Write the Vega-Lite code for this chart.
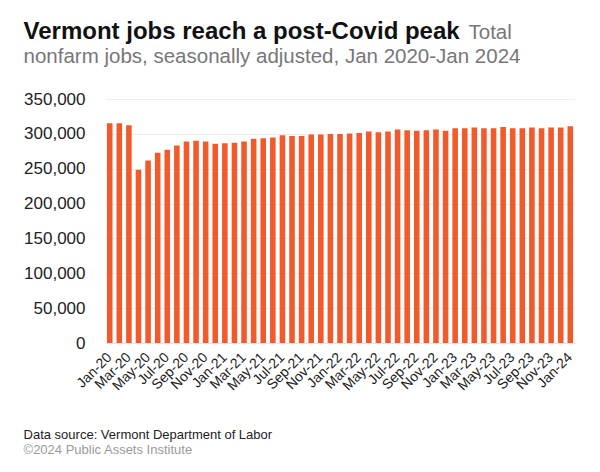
{
  "$schema": "https://vega.github.io/schema/vega-lite/v6.json",
  "background": "white",
  "padding": {"left": 23, "top": 19, "right": 5, "bottom": 5},
  "config": {
    "font": "Liberation Sans",
    "view": {"stroke": null},
    "concat": {"spacing": 0}
  },
  "title": {
    "text": "Vermont jobs reach a post-Covid peak",
    "subtitle": "nonfarm jobs, seasonally adjusted, Jan 2020-Jan 2024",
    "anchor": "start",
    "font": "Liberation Sans",
    "fontSize": 24,
    "fontWeight": "bold",
    "color": "#111111",
    "subtitleFont": "Liberation Sans",
    "subtitleFontSize": 20.5,
    "subtitleColor": "#777777",
    "subtitlePadding": 3,
    "offset": -45
  },
  "vconcat": [
    {
      "title": {
        "text": "Data source: Vermont Department of Labor",
        "subtitle": "©2024 Public Assets Institute",
        "orient": "bottom",
        "anchor": "start",
        "fontSize": 13,
        "fontWeight": "normal",
        "color": "#222222",
        "subtitleFontSize": 13,
        "subtitleColor": "#9a9a9a",
        "subtitlePadding": 2,
        "offset": 36
      },
      "width": 470,
      "height": 244,
      "data": {
        "values": [
          {"month": "Jan-20", "jobs": 315300},
          {"month": "Feb-20", "jobs": 315300},
          {"month": "Mar-20", "jobs": 312400},
          {"month": "Apr-20", "jobs": 248600},
          {"month": "May-20", "jobs": 261900},
          {"month": "Jun-20", "jobs": 272900},
          {"month": "Jul-20", "jobs": 277100},
          {"month": "Aug-20", "jobs": 283300},
          {"month": "Sep-20", "jobs": 289000},
          {"month": "Oct-20", "jobs": 290000},
          {"month": "Nov-20", "jobs": 289000},
          {"month": "Dec-20", "jobs": 285700},
          {"month": "Jan-21", "jobs": 286700},
          {"month": "Feb-21", "jobs": 287100},
          {"month": "Mar-21", "jobs": 289000},
          {"month": "Apr-21", "jobs": 292900},
          {"month": "May-21", "jobs": 293800},
          {"month": "Jun-21", "jobs": 294800},
          {"month": "Jul-21", "jobs": 298100},
          {"month": "Aug-21", "jobs": 297100},
          {"month": "Sep-21", "jobs": 297100},
          {"month": "Oct-21", "jobs": 299000},
          {"month": "Nov-21", "jobs": 299000},
          {"month": "Dec-21", "jobs": 299800},
          {"month": "Jan-22", "jobs": 299700},
          {"month": "Feb-22", "jobs": 300500},
          {"month": "Mar-22", "jobs": 301400},
          {"month": "Apr-22", "jobs": 303300},
          {"month": "May-22", "jobs": 302400},
          {"month": "Jun-22", "jobs": 303300},
          {"month": "Jul-22", "jobs": 306200},
          {"month": "Aug-22", "jobs": 305200},
          {"month": "Sep-22", "jobs": 304300},
          {"month": "Oct-22", "jobs": 305200},
          {"month": "Nov-22", "jobs": 306200},
          {"month": "Dec-22", "jobs": 304300},
          {"month": "Jan-23", "jobs": 308100},
          {"month": "Feb-23", "jobs": 308100},
          {"month": "Mar-23", "jobs": 309000},
          {"month": "Apr-23", "jobs": 308100},
          {"month": "May-23", "jobs": 308100},
          {"month": "Jun-23", "jobs": 310000},
          {"month": "Jul-23", "jobs": 308100},
          {"month": "Aug-23", "jobs": 308100},
          {"month": "Sep-23", "jobs": 309000},
          {"month": "Oct-23", "jobs": 308100},
          {"month": "Nov-23", "jobs": 309000},
          {"month": "Dec-23", "jobs": 309000},
          {"month": "Jan-24", "jobs": 311000}
        ]
      },
      "mark": {"type": "bar", "color": "#f15a2b"},
      "encoding": {
        "x": {
          "field": "month",
          "type": "ordinal",
          "sort": null,
          "scale": {"paddingInner": 0.42, "paddingOuter": 0.2},
          "axis": {
            "title": null,
            "values": ["Jan-20","Mar-20","May-20","Jul-20","Sep-20","Nov-20","Jan-21","Mar-21","May-21","Jul-21","Sep-21","Nov-21","Jan-22","Mar-22","May-22","Jul-22","Sep-22","Nov-22","Jan-23","Mar-23","May-23","Jul-23","Sep-23","Nov-23","Jan-24"],
            "labelAngle": -45,
            "labelAlign": "right",
            "labelBaseline": "middle",
            "labelFontSize": 14,
            "labelColor": "#222222",
            "labelPadding": 12,
            "ticks": false,
            "domainColor": "#e6e6e6",
            "labelOverlap": false
          }
        },
        "y": {
          "field": "jobs",
          "type": "quantitative",
          "scale": {"domain": [0, 350000]},
          "axis": {
            "values": [0, 50000, 100000, 150000, 200000, 250000, 300000, 350000],
            "format": ",d",
            "title": "Total",
            "titleAngle": 0,
            "titleX": 363,
            "titleY": -61,
            "titleAlign": "left",
            "titleBaseline": "alphabetic",
            "titleFontSize": 20.5,
            "titleFontWeight": "normal",
            "titleColor": "#777777",
            "labelFontSize": 17,
            "labelColor": "#222222",
            "labelPadding": 20,
            "ticks": false,
            "domain": false,
            "gridColor": "#eeeeee"
          }
        }
      }
    }
  ]
}
